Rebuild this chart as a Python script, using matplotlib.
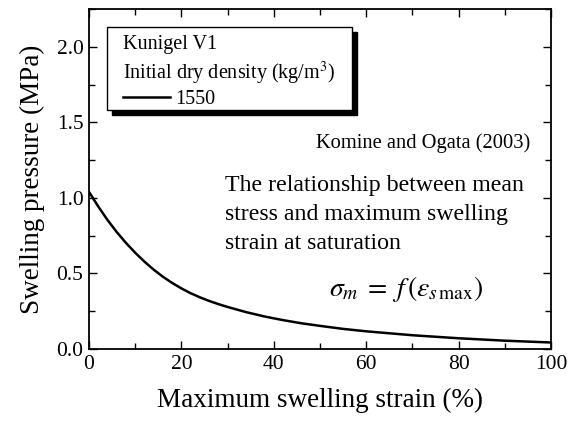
import matplotlib.pyplot as plt
from matplotlib.patches import Rectangle
from matplotlib.ticker import MultipleLocator

plt.rcParams["font.family"] = ["Liberation Serif", "DejaVu Serif"]
plt.rcParams["mathtext.fontset"] = "stix"

# Kunigel V1, initial dry density 1550 kg/m3
strain = [0, 2, 4, 6, 8, 10, 12, 14, 16, 18, 20, 22, 24, 26, 28, 30, 34, 38, 42,
          46, 50, 55, 60, 70, 80, 90, 100]
pressure = [1.04, 0.943, 0.854, 0.774, 0.702, 0.637, 0.578, 0.525, 0.478, 0.437,
            0.401, 0.369, 0.342, 0.318, 0.297, 0.278, 0.244, 0.215, 0.191, 0.170,
            0.153, 0.133, 0.117, 0.091, 0.071, 0.055, 0.043]

fig = plt.figure(figsize=(5.69, 4.24), dpi=100)
ax = fig.add_axes([0.1564, 0.1769, 0.812, 0.802])

ax.plot(strain, pressure, color="black", lw=1.8, label="1550")

ax.set_xlim(0, 100)
ax.set_ylim(0, 2.25)
ax.xaxis.set_major_locator(MultipleLocator(20))
ax.xaxis.set_minor_locator(MultipleLocator(10))
ax.yaxis.set_major_locator(MultipleLocator(0.5))
ax.yaxis.set_minor_locator(MultipleLocator(0.25))
ax.yaxis.set_major_formatter(lambda v, pos: f"{v:.1f}")
ax.tick_params(which="both", direction="in", top=True, right=True, width=1.0)
ax.tick_params(which="major", length=6, labelsize=15.5, pad=4)
ax.tick_params(which="minor", length=4)
for s in ax.spines.values():
    s.set_linewidth(1.3)

ax.set_xlabel("Maximum swelling strain (%)", fontsize=19.5, labelpad=10)
ax.set_ylabel("Swelling pressure (MPa)", fontsize=19.5, labelpad=8)

# legend frame with a solid black drop shadow
box_x, box_y, box_w, box_h = 0.039, 0.703, 0.530, 0.244
ax.add_patch(Rectangle((box_x + 0.011, box_y - 0.016), box_w, box_h, transform=ax.transAxes,
                       facecolor="black", edgecolor="black", zorder=4))
ax.add_patch(Rectangle((box_x, box_y), box_w, box_h, transform=ax.transAxes,
                       facecolor="white", edgecolor="black", lw=1.0, zorder=4))

leg = ax.legend(loc="upper left", bbox_to_anchor=(0.074, 0.922), borderaxespad=0,
                title="Kunigel V1\nInitial dry density (kg/m$^3$)", title_fontsize=14.5,
                fontsize=14.5, alignment="left", frameon=False, borderpad=0,
                handlelength=2.3, handletextpad=0.3, labelspacing=0.1)
leg.set_zorder(5)
leg.get_title().set_linespacing(1.3)
leg._legend_box.sep = 2

ax.text(0.955, 0.605, "Komine and Ogata (2003)", transform=ax.transAxes,
        ha="right", va="center", fontsize=14.8)
ax.text(0.295, 0.395,
        "The relationship between mean\nstress and maximum swelling\nstrain at saturation",
        transform=ax.transAxes, ha="left", va="center", fontsize=17.2, linespacing=1.5)
ax.text(0.686, 0.175, r"$\sigma_m\;=\;f\,(\varepsilon_{s\,\max})$", transform=ax.transAxes,
        ha="center", va="center", fontsize=20)

fig.savefig("out.png", dpi=100)
